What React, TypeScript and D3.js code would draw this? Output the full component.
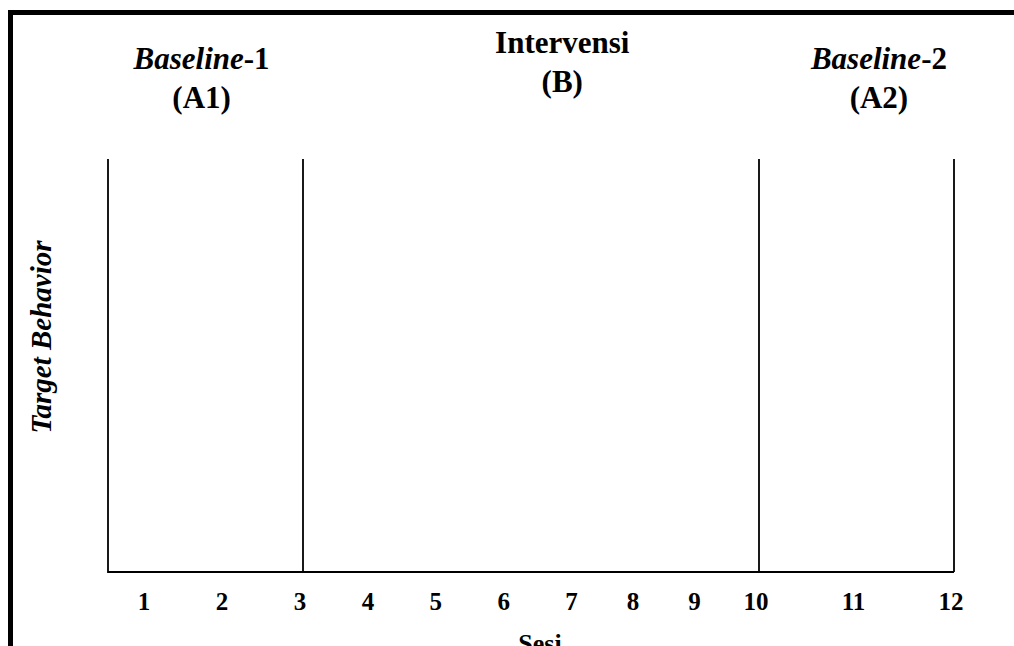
import { useMemo } from 'react';
import * as d3 from 'd3';

// sesi (tick labels of the x axis)
const SESSIONS = [1, 2, 3, 4, 5, 6, 7, 8, 9, 10, 11, 12];

// fases A-B-A
const PHASE_CODES = ['(A1)', '(B)', '(A2)'];
const PHASE_ITALIC = ['Baseline', '', 'Baseline'];
const PHASE_PLAIN = ['-1', 'Intervensi', '-2'];
const PHASE_END = [3, 10, 12]; // session where the phase line sits
const PHASE_LABEL_AT = [1.7, 6.82, 11.23]; // session at the centre of the phase title

const Y_LABEL = 'Target Behavior';
const X_LABEL = 'Sesi';

const WIDTH = 1014;
const HEIGHT = 646;
const PLOT = { left: 108, right: 954, top: 159, bottom: 572 };
const FONT = '"Liberation Serif", "Times New Roman", serif';

export default function App() {
  // piecewise scale: the sessions are not spaced evenly in the original
  const xScale = useMemo(
    () =>
      d3
        .scaleLinear()
        .domain([0.5, 3, 7, 10, 12])
        .range([PLOT.left, 303, 574.5, 759, PLOT.right]),
    []
  );
  const yScale = useMemo(
    () => d3.scaleLinear().domain([0, 1]).range([PLOT.bottom, PLOT.top]),
    []
  );

  const axisPath = d3.line()([
    [xScale(0.5), yScale(1)],
    [xScale(0.5), yScale(0)],
    [xScale(12), yScale(0)],
  ]);

  return (
    <svg
      width={WIDTH}
      height={HEIGHT}
      style={{ position: 'absolute', left: 0, top: 0, background: '#fff' }}
      fontFamily={FONT}
      fontWeight="bold"
    >
      {/* bingkai */}
      <rect x={10.5} y={12.5} width={1012} height={645} fill="none" stroke="#000" strokeWidth={5} />

      <path d={axisPath ?? ''} fill="none" stroke="#000" strokeWidth={1.8} />

      {PHASE_END.map((s) => (
        <line
          key={s}
          x1={xScale(s)}
          x2={xScale(s)}
          y1={yScale(1)}
          y2={yScale(0)}
          stroke="#000"
          strokeWidth={1.8}
        />
      ))}

      {PHASE_CODES.map((code, i) => {
        const cx = xScale(PHASE_LABEL_AT[i]);
        const y0 = i === 1 ? 53 : 68.5;
        return (
          <g key={code} textAnchor="middle" fontSize={31}>
            <text x={cx} y={y0}>
              {PHASE_ITALIC[i] && <tspan fontStyle="italic">{PHASE_ITALIC[i]}</tspan>}
              <tspan>{PHASE_PLAIN[i]}</tspan>
            </text>
            <text x={cx} y={y0 + 39}>
              {code}
            </text>
          </g>
        );
      })}

      {SESSIONS.map((s) => (
        <text key={s} x={xScale(s)} dx={-3} y={610} textAnchor="middle" fontSize={25}>
          {s}
        </text>
      ))}

      <text x={540} y={652} textAnchor="middle" fontSize={26}>
        {X_LABEL}
      </text>

      <text
        transform={`translate(51, 337) rotate(-90)`}
        textAnchor="middle"
        fontSize={29}
        fontStyle="italic"
      >
        {Y_LABEL}
      </text>
    </svg>
  );
}
